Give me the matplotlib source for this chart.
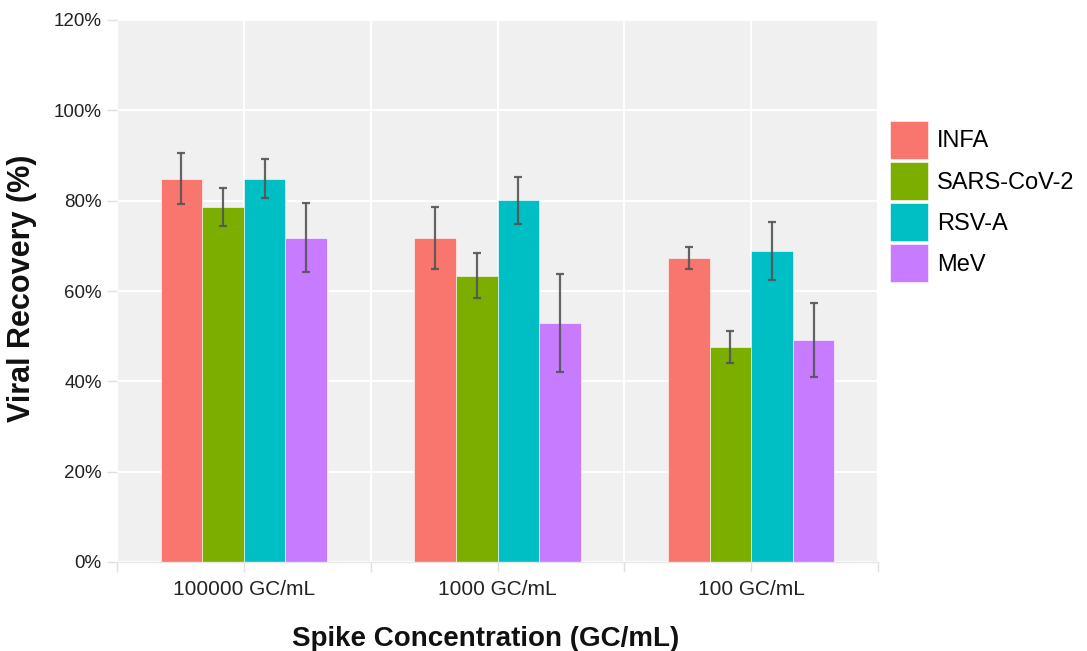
import numpy as np
import matplotlib
matplotlib.use('Agg')
import matplotlib.pyplot as plt
from matplotlib.ticker import FuncFormatter, MultipleLocator

plt.rcParams['font.family'] = ['Liberation Sans', 'DejaVu Sans']

# data
concentrations = ['100000 GC/mL', '1000 GC/mL', '100 GC/mL']
viruses = ['INFA', 'SARS-CoV-2', 'RSV-A', 'MeV']
recovery = {
    'INFA':       [84.9, 71.7, 67.3],
    'SARS-CoV-2': [78.5, 63.4, 47.6],
    'RSV-A':      [84.9, 80.1, 68.8],
    'MeV':        [71.8, 52.9, 49.2],
}
errors = {
    'INFA':       [5.7, 6.8, 2.4],
    'SARS-CoV-2': [4.2, 5.0, 3.6],
    'RSV-A':      [4.3, 5.2, 6.4],
    'MeV':        [7.6, 10.8, 8.2],
}
colors = ['#F8766D', '#7CAE00', '#00BFC4', '#C77CFF']

fig = plt.figure(figsize=(10.87, 6.51), dpi=100)
ax = fig.add_axes([117 / 1087, 1 - 562 / 651, 761 / 1087, 542 / 651])
ax.set_facecolor('#F0F0F0')

x = np.arange(1, len(concentrations) + 1)
width = 0.164
for i, (v, c) in enumerate(zip(viruses, colors)):
    pos = x + (i - 1.5) * width
    ax.bar(pos, recovery[v], width, color=c, label=v, zorder=2,
           edgecolor='#FFFFFF', linewidth=0.4)
    ax.errorbar(pos, recovery[v], yerr=errors[v], fmt='none', ecolor='#555555',
                elinewidth=1.6, capsize=3.2, capthick=1.6, zorder=3, alpha=0.9)

ax.set_xlim(0.5, 3.5)
ax.set_ylim(0, 120)
ax.yaxis.set_major_locator(MultipleLocator(20))
ax.yaxis.set_major_formatter(FuncFormatter(lambda v, p: f'{v:.0f}%'))
ax.set_xticks(np.arange(0.5, 3.51, 0.5))
ax.set_xticklabels(['', concentrations[0], '', concentrations[1], '',
                    concentrations[2], ''])
ax.grid(True, color='white', linewidth=1.4, zorder=0)
ax.set_axisbelow(True)
for s in ['top', 'right', 'left']:
    ax.spines[s].set_visible(False)
ax.spines['bottom'].set_color('#E6E6E6')
ax.spines['bottom'].set_linewidth(1.0)

ax.tick_params(axis='x', colors='#E0E0E0', length=7, width=1, labelcolor='#222222',
               labelsize=15, pad=6)
ax.tick_params(axis='y', colors='#E0E0E0', length=7, width=1, labelcolor='#222222',
               labelsize=13.5, pad=4)

ax.set_xlabel('Spike Concentration (GC/mL)', fontsize=20, fontweight='bold',
              color='#111111')
ax.xaxis.set_label_coords(0.485, -0.118)
ax.set_ylabel('Viral Recovery (%)', fontsize=22, fontweight='bold',
              color='#111111')
ax.yaxis.set_label_coords(-0.105, 0.505)

fig.legend(loc='upper left', bbox_to_anchor=(890 / 1087, 1 - 121 / 651),
           frameon=False, fontsize=17, handlelength=1.6, handleheight=2.1,
           labelspacing=0.13, handletextpad=0.4, borderpad=0, borderaxespad=0)

fig.savefig('out.png', dpi=100, facecolor='white')
